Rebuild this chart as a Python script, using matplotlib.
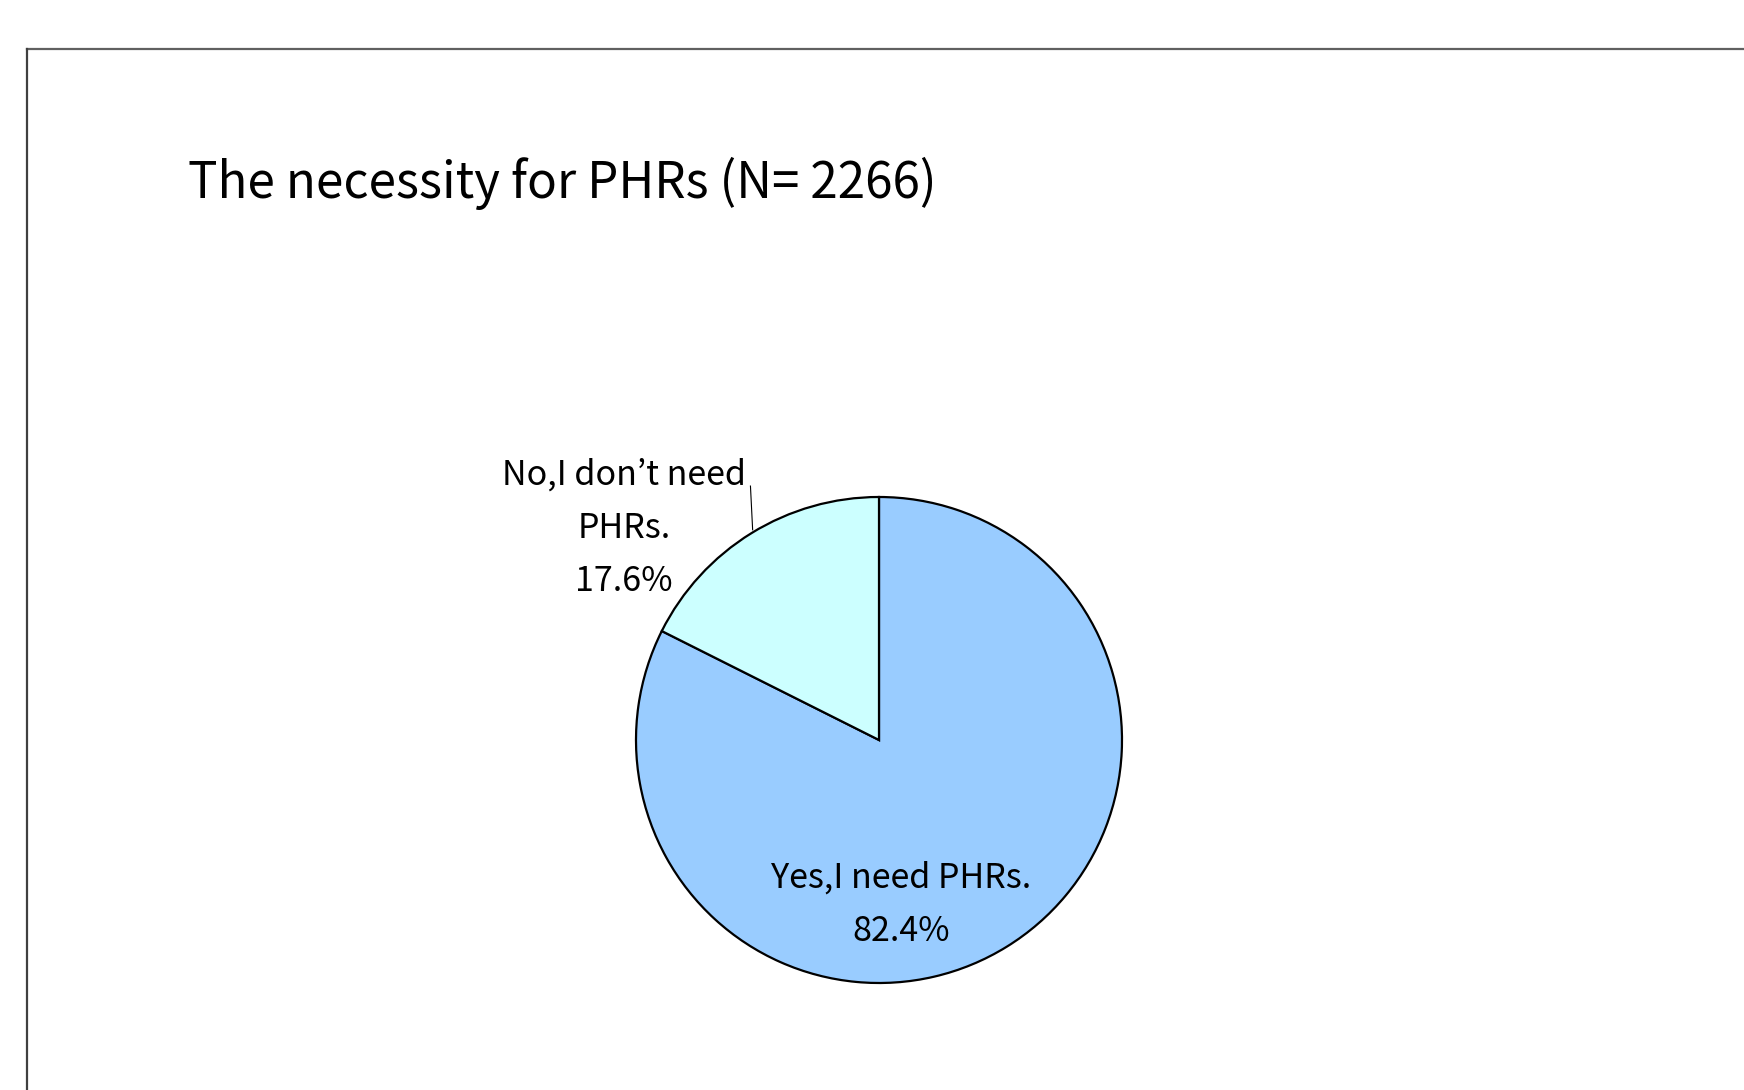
import numpy as np
import matplotlib
matplotlib.use('Agg')
import matplotlib.pyplot as plt
from matplotlib.lines import Line2D

plt.rcParams['font.family'] = ['Noto Sans CJK JP', 'DejaVu Sans']

# data
labels = ['Yes,I need PHRs.', 'No,I don\u2019t need\nPHRs.']
shares = [82.4, 17.6]
colors = ['#99CCFF', '#CCFFFF']
title = 'The necessity for PHRs (N= 2266)'

W, H = 1744, 1090
fig = plt.figure(figsize=(W / 100, H / 100), dpi=100)

# frame of the chart area (runs off the right and bottom edges)
fig.add_artist(Line2D([27 / W, 1.0], [1 - 49 / H, 1 - 49 / H], color='#606060', lw=1.6))
fig.add_artist(Line2D([27 / W, 27 / W], [0.0, 1 - 49 / H], color='#404040', lw=1.6))

fig.text(188 / W, 1 - 198.5 / H, title, fontsize=35.5, ha='left', va='baseline')

# pie axes: center (879,740) px, radius ~243 px
cx, cy, r = 879, 740, 243
ax = fig.add_axes([(cx - r) / W, (H - cy - r) / H, 2 * r / W, 2 * r / H])
wedges, _ = ax.pie(shares, colors=colors, startangle=90, counterclock=False,
                   wedgeprops=dict(edgecolor='black', linewidth=1.6))
ax.set_xlim(-1, 1)
ax.set_ylim(-1, 1)
ax.set_aspect('equal')
ax.axis('off')

pct = ['%.1f%%' % s for s in shares]
ax.text(0.09, -0.677, labels[0] + '\n' + pct[0], ha='center', va='center',
        fontsize=24.5, linespacing=1.67)
ax.text(-1.05, 0.87, labels[1] + '\n' + pct[1], ha='center', va='center',
        fontsize=24.5, linespacing=1.67)
ax.plot([-0.529, -0.52], [1.045, 0.865], color='black', lw=0.8, clip_on=False)

fig.savefig('out.png', dpi=100)
